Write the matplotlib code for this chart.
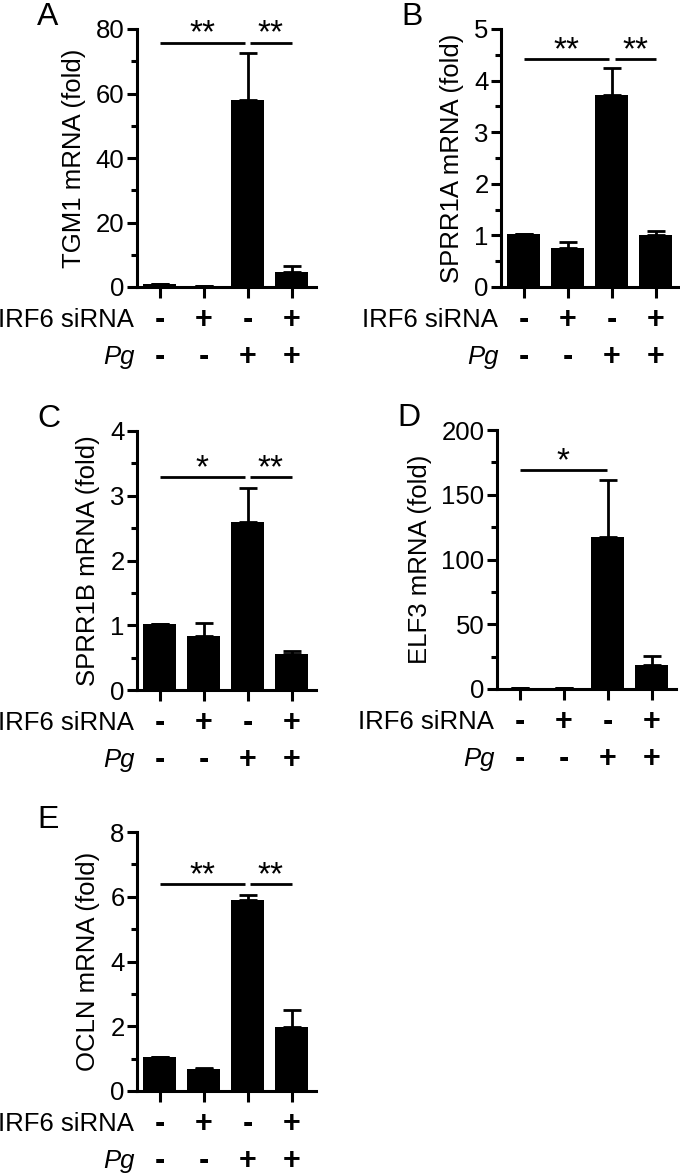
import matplotlib
matplotlib.use("Agg")
import matplotlib.pyplot as plt
from matplotlib.ticker import MultipleLocator

plt.rcParams['font.family'] = ['Liberation Sans', 'DejaVu Sans']

# ---- data ----
irf6_row = ['-', '+', '-', '+']
pg_row = ['-', '-', '+', '+']

tgm1_mean = [1.0, 0.4, 58.0, 4.8]
tgm1_err = [0.0, 0.0, 14.5, 1.6]

sprr1a_mean = [1.02, 0.76, 3.72, 1.0]
sprr1a_err = [0.0, 0.11, 0.53, 0.08]

sprr1b_mean = [1.02, 0.83, 2.6, 0.55]
sprr1b_err = [0.0, 0.21, 0.52, 0.05]

elf3_mean = [1.0, 0.5, 117.0, 18.8]
elf3_err = [0.0, 0.0, 44.5, 7.0]

ocln_mean = [1.05, 0.68, 5.9, 1.98]
ocln_err = [0.0, 0.04, 0.16, 0.52]

panels = [
    dict(letter='A', ylabel='TGM1 mRNA (fold)', mean=tgm1_mean, err=tgm1_err,
         ymax=80, major=20, minor=10, sig=[(0, 1.93, 75.8, '**'), (2.05, 3, 75.8, '**')],
         px=(137, 29, 287)),
    dict(letter='B', ylabel='SPRR1A mRNA (fold)', mean=sprr1a_mean, err=sprr1a_err,
         ymax=5, major=1, minor=0.5, sig=[(0, 1.94, 4.41, '**'), (2.07, 3, 4.41, '**')],
         px=(501, 29, 287)),
    dict(letter='C', ylabel='SPRR1B mRNA (fold)', mean=sprr1b_mean, err=sprr1b_err,
         ymax=4, major=1, minor=0.5, sig=[(0, 1.93, 3.29, '*'), (2.05, 3, 3.29, '**')],
         px=(137, 431, 690)),
    dict(letter='D', ylabel='ELF3 mRNA (fold)', mean=elf3_mean, err=elf3_err,
         ymax=200, major=50, minor=25, sig=[(0, 1.97, 169.2, '*')],
         px=(497, 430, 689)),
    dict(letter='E', ylabel='OCLN mRNA (fold)', mean=ocln_mean, err=ocln_err,
         ymax=8, major=2, minor=1, sig=[(0, 1.93, 6.4, '**'), (2.05, 3, 6.4, '**')],
         px=(137, 832, 1091)),
]

W, H = 680, 1174
fig = plt.figure(figsize=(W / 100, H / 100), dpi=100)

FS = 18.5
x = [0, 1, 2, 3]
for p in panels:
    left, top, bottom = p['px']
    ax = fig.add_axes([left / W, 1 - bottom / H, 179 / W, (bottom - top) / H])
    ax.bar(x, p['mean'], width=0.75, color='black', zorder=2)
    ax.errorbar(x, p['mean'], yerr=[[0] * 4, p['err']], fmt='none', ecolor='black',
                elinewidth=2.0, capsize=6.5, capthick=2.0, zorder=1)
    ax.set_xlim(-0.52, 3.55)
    ax.set_ylim(0, p['ymax'])
    ax.yaxis.set_major_locator(MultipleLocator(p['major']))
    ax.yaxis.set_minor_locator(MultipleLocator(p['minor']))
    for s in ['top', 'right']:
        ax.spines[s].set_visible(False)
    for s in ['left', 'bottom']:
        ax.spines[s].set_linewidth(2.2)
    ax.tick_params(axis='y', which='major', direction='out', length=7, width=2.2,
                   labelsize=FS, pad=2)
    ax.tick_params(axis='y', which='minor', direction='out', length=4, width=2.2)
    ax.set_xticks(x)
    ax.set_xticklabels([])
    ax.tick_params(axis='x', which='major', direction='out', length=8, width=2.2)
    ax.set_ylabel(p['ylabel'], fontsize=FS, labelpad=7)
    ax.patch.set_alpha(0)

    # treatment rows
    for xi, a, b in zip(x, irf6_row, pg_row):
        ax.annotate(a, xy=(xi, 0), xycoords=('data', 'axes fraction'),
                    xytext=(0, -33 * 0.72), textcoords='offset points',
                    ha='center', va='center', fontsize=22, fontweight='bold')
        ax.annotate(b, xy=(xi, 0), xycoords=('data', 'axes fraction'),
                    xytext=(0, -70 * 0.72), textcoords='offset points',
                    ha='center', va='center', fontsize=22, fontweight='bold')
    ax.annotate('IRF6 siRNA', xy=(-0.52, 0), xycoords=('data', 'axes fraction'),
                xytext=(-2, -33 * 0.72), textcoords='offset points',
                ha='right', va='center', fontsize=FS)
    ax.annotate('Pg', xy=(-0.52, 0), xycoords=('data', 'axes fraction'),
                xytext=(-2, -70 * 0.72), textcoords='offset points',
                ha='right', va='center', fontsize=FS, style='italic')

    # significance
    for x0, x1, yv, star in p['sig']:
        ax.plot([x0, x1], [yv, yv], color='black', lw=2.0, clip_on=False,
                solid_capstyle='butt')
        ax.annotate(star, xy=((x0 + x1) / 2, yv), xycoords='data',
                    xytext=(0, 0), textcoords='offset points',
                    ha='center', va='baseline', fontsize=24)

    # panel letter
    fig.text((left - 100) / W, 1 - (top - 12) / H, p['letter'], fontsize=23,
             ha='left', va='center')

fig.savefig('out.png', dpi=100)
